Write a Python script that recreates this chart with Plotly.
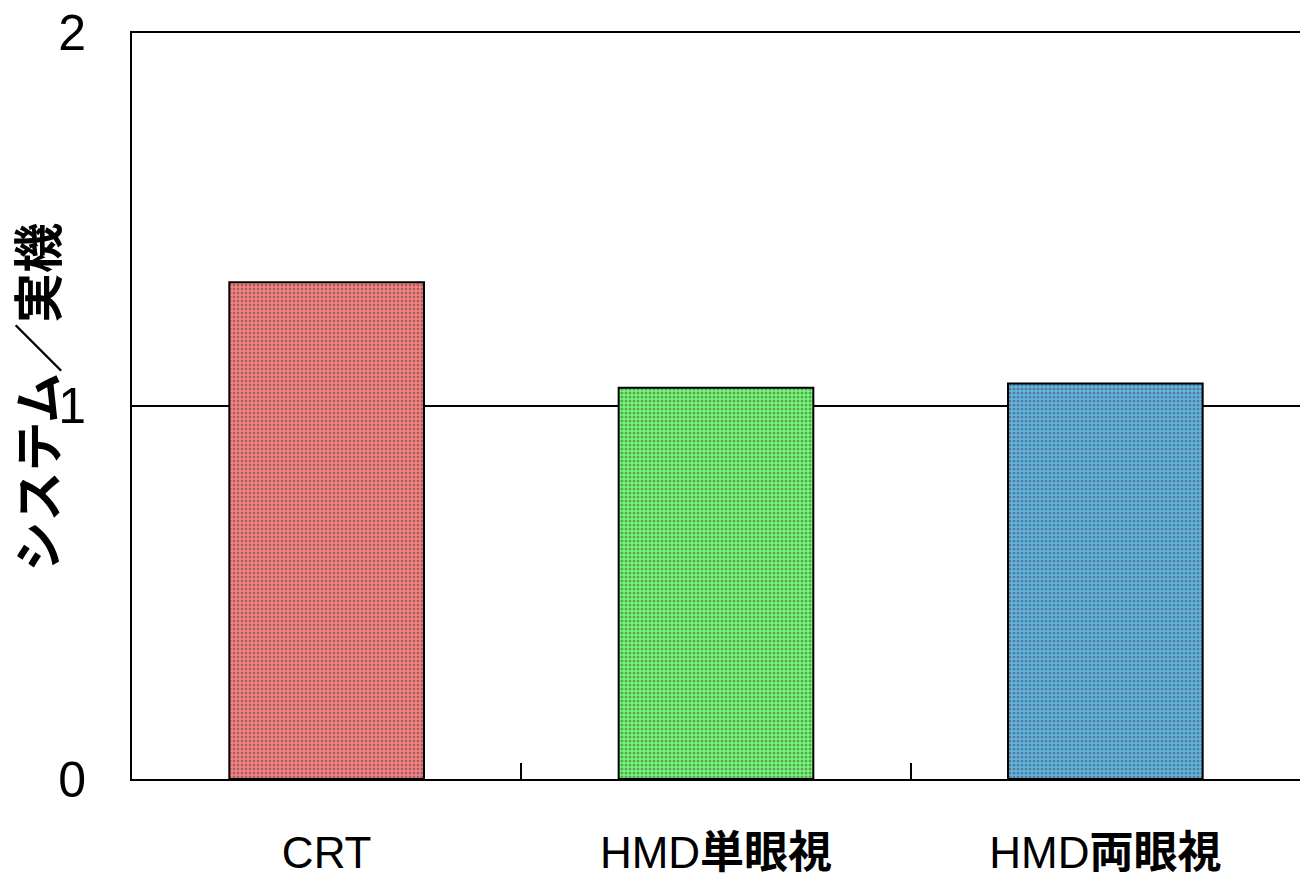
import plotly.graph_objects as go

categories = ["CRT", "HMD単眼視", "HMD両眼視"]
tick_labels = ["CRT", "HMD<b>単眼視</b>", "HMD<b>両眼視</b>"]
values = [1.33, 1.048, 1.059]
bg_colors = ["#ff8282", "#74fc74", "#62b8e8"]
y_ticks = [0, 1, 2]

FONT = "Liberation Sans Narrow, Liberation Sans, Noto Sans CJK JP, sans-serif"

# page body has an 8px default margin; compensate so plot area sits at x 132-1300, y 31-779
L, T, R, B = 124, 23, 16, 107
PW = 1308 - L - R
PH = 878 - T - B

fig = go.Figure()
fig.add_trace(go.Bar(
    x=categories,
    y=values,
    width=0.5,
    marker=dict(
        color=bg_colors,
        line=dict(color="black", width=2),
        pattern=dict(shape=".", size=4, solidity=0.45, fgcolor="white", fillmode="overlay"),
    ),
))

fig.update_layout(
    width=1308, height=878,
    margin=dict(l=L, r=R, t=T, b=B, autoexpand=False),
    paper_bgcolor="white", plot_bgcolor="white",
    showlegend=False,
    font=dict(family=FONT, color="black"),
    xaxis=dict(
        type="category",
        range=[-0.5, 2.5],
        automargin=False,
        tickmode="array", tickvals=categories, ticktext=tick_labels,
        tickson="boundaries", ticks="inside", ticklen=16, tickwidth=2, tickcolor="black",
        showline=True, linecolor="black", linewidth=2,
        showgrid=False,
        tickfont=dict(size=44, family=FONT),
        ticklabelstandoff=34,
        ticklabeloverflow="allow",
    ),
    yaxis=dict(
        range=[0, 2.003],
        automargin=False,
        tickmode="array", tickvals=y_ticks,
        ticks="", showline=True, linecolor="black", linewidth=2,
        showgrid=True, gridcolor="black", gridwidth=2,
        zeroline=False,
        tickfont=dict(size=50, family=FONT),
        ticklabelstandoff=34,
        ticklabeloverflow="allow",
    ),
    annotations=[dict(
        text="<b>システム／実機</b>",
        xref="paper", yref="paper",
        x=-(132 - 35) / PW, y=0.51,
        xanchor="center", yanchor="middle",
        textangle=-90, showarrow=False,
        font=dict(size=50, family="Noto Sans CJK JP", color="black"),
    )],
)

fig.write_html("out.html")
